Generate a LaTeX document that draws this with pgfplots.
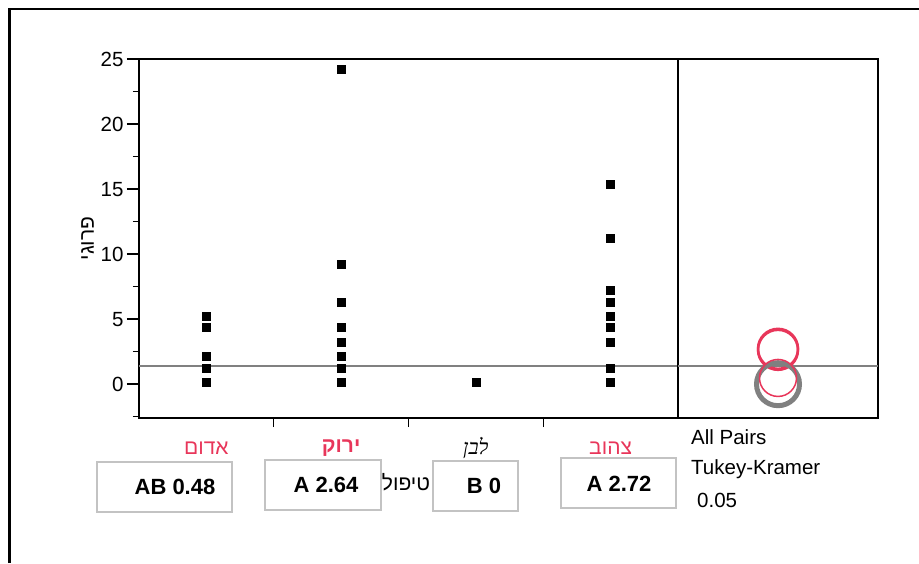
\documentclass[border=0pt]{standalone}
\usepackage{pgfplots}
\pgfplotsset{compat=1.18}
\usepackage{fontspec}
\setmainfont{Liberation Sans}
\newfontfamily\hebfont[Script=Hebrew]{Liberation Sans}
\newfontfamily\hebserif[Script=Hebrew]{Liberation Serif}
\TeXXeTstate=1
\definecolor{jmpred}{RGB}{232,54,90}
\definecolor{jmpgray}{RGB}{128,128,128}
\definecolor{boxgray}{RGB}{195,195,195}
\newcommand{\fs}{\fontsize{20.5}{24}\selectfont}
\newcommand{\hfs}{\fontsize{21}{24}\selectfont}
\begin{document}
\begin{tikzpicture}[x=1pt,y=1pt]
\path[use as bounding box] (0,0) rectangle (919,-563);
\draw[line width=2.5pt] (9.5,-563) -- (9.5,-9) -- (919,-9);

\begin{axis}[
  scale only axis, width=539pt, height=359pt,
  at={(139pt,-418pt)}, anchor=south west,
  xmin=0, xmax=4, ymin=-2.6, ymax=25,
  axis line style={line width=1.5pt},
  tick pos=left, tick align=outside,
  ytick={0,5,10,15,20,25}, minor ytick={-2.5,2.5,7.5,12.5,17.5,22.5},
  major tick length=12pt, minor tick length=6pt,
  every tick/.style={line width=1.5pt, black},
  xtick={0.5,1.5,2.5,3.5},
  xticklabels={
    {\textcolor{jmpred}{\hebfont\beginR אדום\endR}},
    {\textcolor{jmpred}{\hebfont\bfseries\beginR ירוק\endR}},
    {\hebserif\itshape\beginR לבן\endR},
    {\textcolor{jmpred}{\hebfont\beginR צהוב\endR}}},
  x tick style={draw=none},
  extra x ticks={1,2,3}, extra x tick labels={},
  extra x tick style={x tick style={draw=black, line width=1.5pt}, major tick length=9pt},
  xticklabel style={font=\hfs, anchor=center, yshift=-18pt},
  yticklabel style={font=\fs},
  /pgf/number format/assume math mode=true,
  ylabel={\hebfont\beginR פרוגי\endR},
  ylabel style={font=\hfs},
  clip=false,
]
\addplot[jmpgray, line width=1.8pt] coordinates {(0,1.41) (4,1.41)};
\addplot[only marks, mark=square*, mark size=4pt, black] coordinates {
 (0.5,5.25) (0.5,4.35) (0.5,2.17) (0.5,1.23) (0.5,0.15)
 (1.5,24.23) (1.5,9.21) (1.5,6.32) (1.5,4.35) (1.5,3.25) (1.5,2.17) (1.5,1.23) (1.5,0.15)
 (2.5,0.15)
 (3.5,15.35) (3.5,11.21) (3.5,7.24) (3.5,6.32) (3.5,5.25) (3.5,4.35) (3.5,3.25) (3.5,1.23) (3.5,0.15)
};
\end{axis}

\begin{axis}[
  scale only axis, width=200pt, height=359pt,
  at={(678pt,-418pt)}, anchor=south west,
  xmin=0, xmax=1, ymin=-2.6, ymax=25,
  axis line style={line width=1.5pt},
  xtick=\empty, ytick=\empty,
  clip=false,
]
\addplot[jmpgray, line width=1.8pt] coordinates {(0,1.41) (1,1.41)};
\addplot[only marks, mark=o, mark size=20pt, jmpred, mark options={line width=2.5pt}] coordinates {(0.5,2.72) (0.5,2.64)};
\addplot[only marks, mark=o, mark size=21.5pt, jmpgray, mark options={line width=5pt}] coordinates {(0.5,0)};
\addplot[only marks, mark=o, mark size=18.5pt, jmpred, mark options={line width=1.5pt}] coordinates {(0.5,0.48)};
\end{axis}

% comparison boxes
\draw[boxgray, line width=1.5pt] (97,-462) rectangle (232,-512);
\draw[boxgray, line width=1.5pt] (265,-460) rectangle (381,-510);
\draw[boxgray, line width=1.5pt] (433,-461) rectangle (518,-511);
\draw[boxgray, line width=1.5pt] (561,-458) rectangle (676,-508);
\node[font=\fontsize{22}{26}\selectfont\bfseries] at (175,-487) {AB 0.48};
\node[font=\fontsize{22}{26}\selectfont\bfseries] at (326,-485) {A 2.64};
\node[font=\fontsize{22}{26}\selectfont\bfseries] at (484,-486) {B 0};
\node[font=\fontsize{22}{26}\selectfont\bfseries] at (619,-483.5) {A 2.72};
\node[font=\hfs] at (406,-482) {\hebfont\beginR טיפול\endR};
\node[font=\fs, anchor=west, inner sep=0pt] at (691,-437) {All Pairs};
\node[font=\fs, anchor=west, inner sep=0pt] at (691,-469) {Tukey-Kramer};
\node[font=\fs, anchor=west, inner sep=0pt] at (697,-500) {0.05};
\end{tikzpicture}
\end{document}
